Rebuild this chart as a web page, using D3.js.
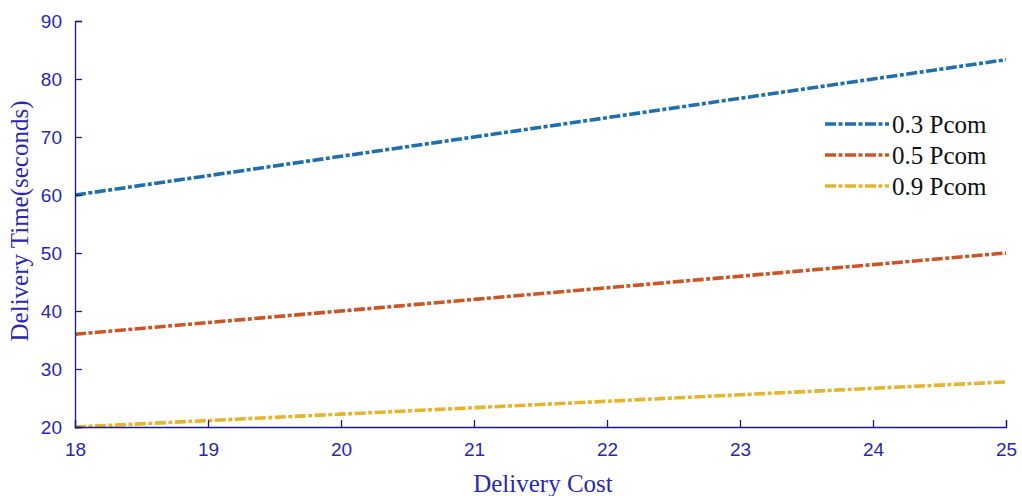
<!DOCTYPE html>
<html><head><meta charset="utf-8">
<script src="https://cdn.jsdelivr.net/npm/d3@7"></script>
<style>body{margin:0;background:#fff;}svg{display:block;}</style>
</head><body>
<svg id="c" width="1022" height="496"></svg>
<script>
const costs = [18, 19, 20, 21, 22, 23, 24, 25];
const pcom03 = [60, 63.33, 66.67, 70, 73.33, 76.67, 80, 83.33];
const pcom05 = [36, 38, 40, 42, 44, 46, 48, 50];
const pcom09 = [20, 21.11, 22.22, 23.33, 24.44, 25.56, 26.67, 27.78];
const seriesNames = ["0.3 Pcom", "0.5 Pcom", "0.9 Pcom"];
const seriesColors = ["#1F6FAE", "#CC5527", "#E5B530"];
const xTicks = [18, 19, 20, 21, 22, 23, 24, 25];
const yTicks = [20, 30, 40, 50, 60, 70, 80, 90];

const svg = d3.select("#c");
const x = d3.scaleLinear().domain([18, 25]).range([75, 1006]);
const y = d3.scaleLinear().domain([20, 90]).range([427, 21]);
const axisColor = "#1a1a8c";
const tickText = "#2828b0";
const dash = "11,2.5,4,2.5";

const series = [pcom03, pcom05, pcom09];
const line = d3.line().x((d, i) => x(costs[i])).y(d => y(d));
series.forEach((s, k) => {
  svg.append("path").datum(s).attr("d", line)
    .attr("fill", "none").attr("stroke", seriesColors[k])
    .attr("stroke-width", 3.6).attr("stroke-dasharray", dash);
});

const gx = svg.append("g").attr("transform", "translate(0,427)")
  .call(d3.axisBottom(x).tickValues(xTicks).tickSize(-7).tickPadding(16).tickFormat(d3.format("d")));
const gy = svg.append("g").attr("transform", "translate(75,0)")
  .call(d3.axisLeft(y).tickValues(yTicks).tickSize(-7).tickPadding(13).tickFormat(d3.format("d")));
[gx, gy].forEach(g => {
  g.select(".domain").attr("stroke", axisColor).attr("stroke-width", 1.3);
  g.selectAll(".tick line").attr("stroke", axisColor).attr("stroke-width", 1.3);
  g.selectAll(".tick text").attr("fill", tickText)
    .style("font-family", "'Liberation Sans', Arial, sans-serif").style("font-size", "19px");
});
gx.selectAll(".tick text").attr("dy", "0.71em");

svg.append("text").attr("x", 543).attr("y", 492).attr("text-anchor", "middle")
  .attr("fill", tickText).style("font-family", "'Liberation Serif', 'Times New Roman', serif")
  .style("font-size", "25px").text("Delivery Cost");
svg.append("text").attr("transform", "translate(28,221) rotate(-90)").attr("text-anchor", "middle")
  .attr("fill", tickText).style("font-family", "'Liberation Serif', 'Times New Roman', serif")
  .style("font-size", "25px").text("Delivery Time(seconds)");

const legY = [124, 155, 186];
seriesNames.forEach((n, k) => {
  svg.append("line").attr("x1", 825).attr("x2", 889).attr("y1", legY[k]).attr("y2", legY[k])
    .attr("stroke", seriesColors[k]).attr("stroke-width", 3.6).attr("stroke-dasharray", dash);
  svg.append("text").attr("x", 892).attr("y", legY[k]).attr("dy", "0.35em")
    .attr("fill", "#111").style("font-family", "'Liberation Serif', 'Times New Roman', serif")
    .style("font-size", "25px").text(n);
});
</script>
</body></html>
